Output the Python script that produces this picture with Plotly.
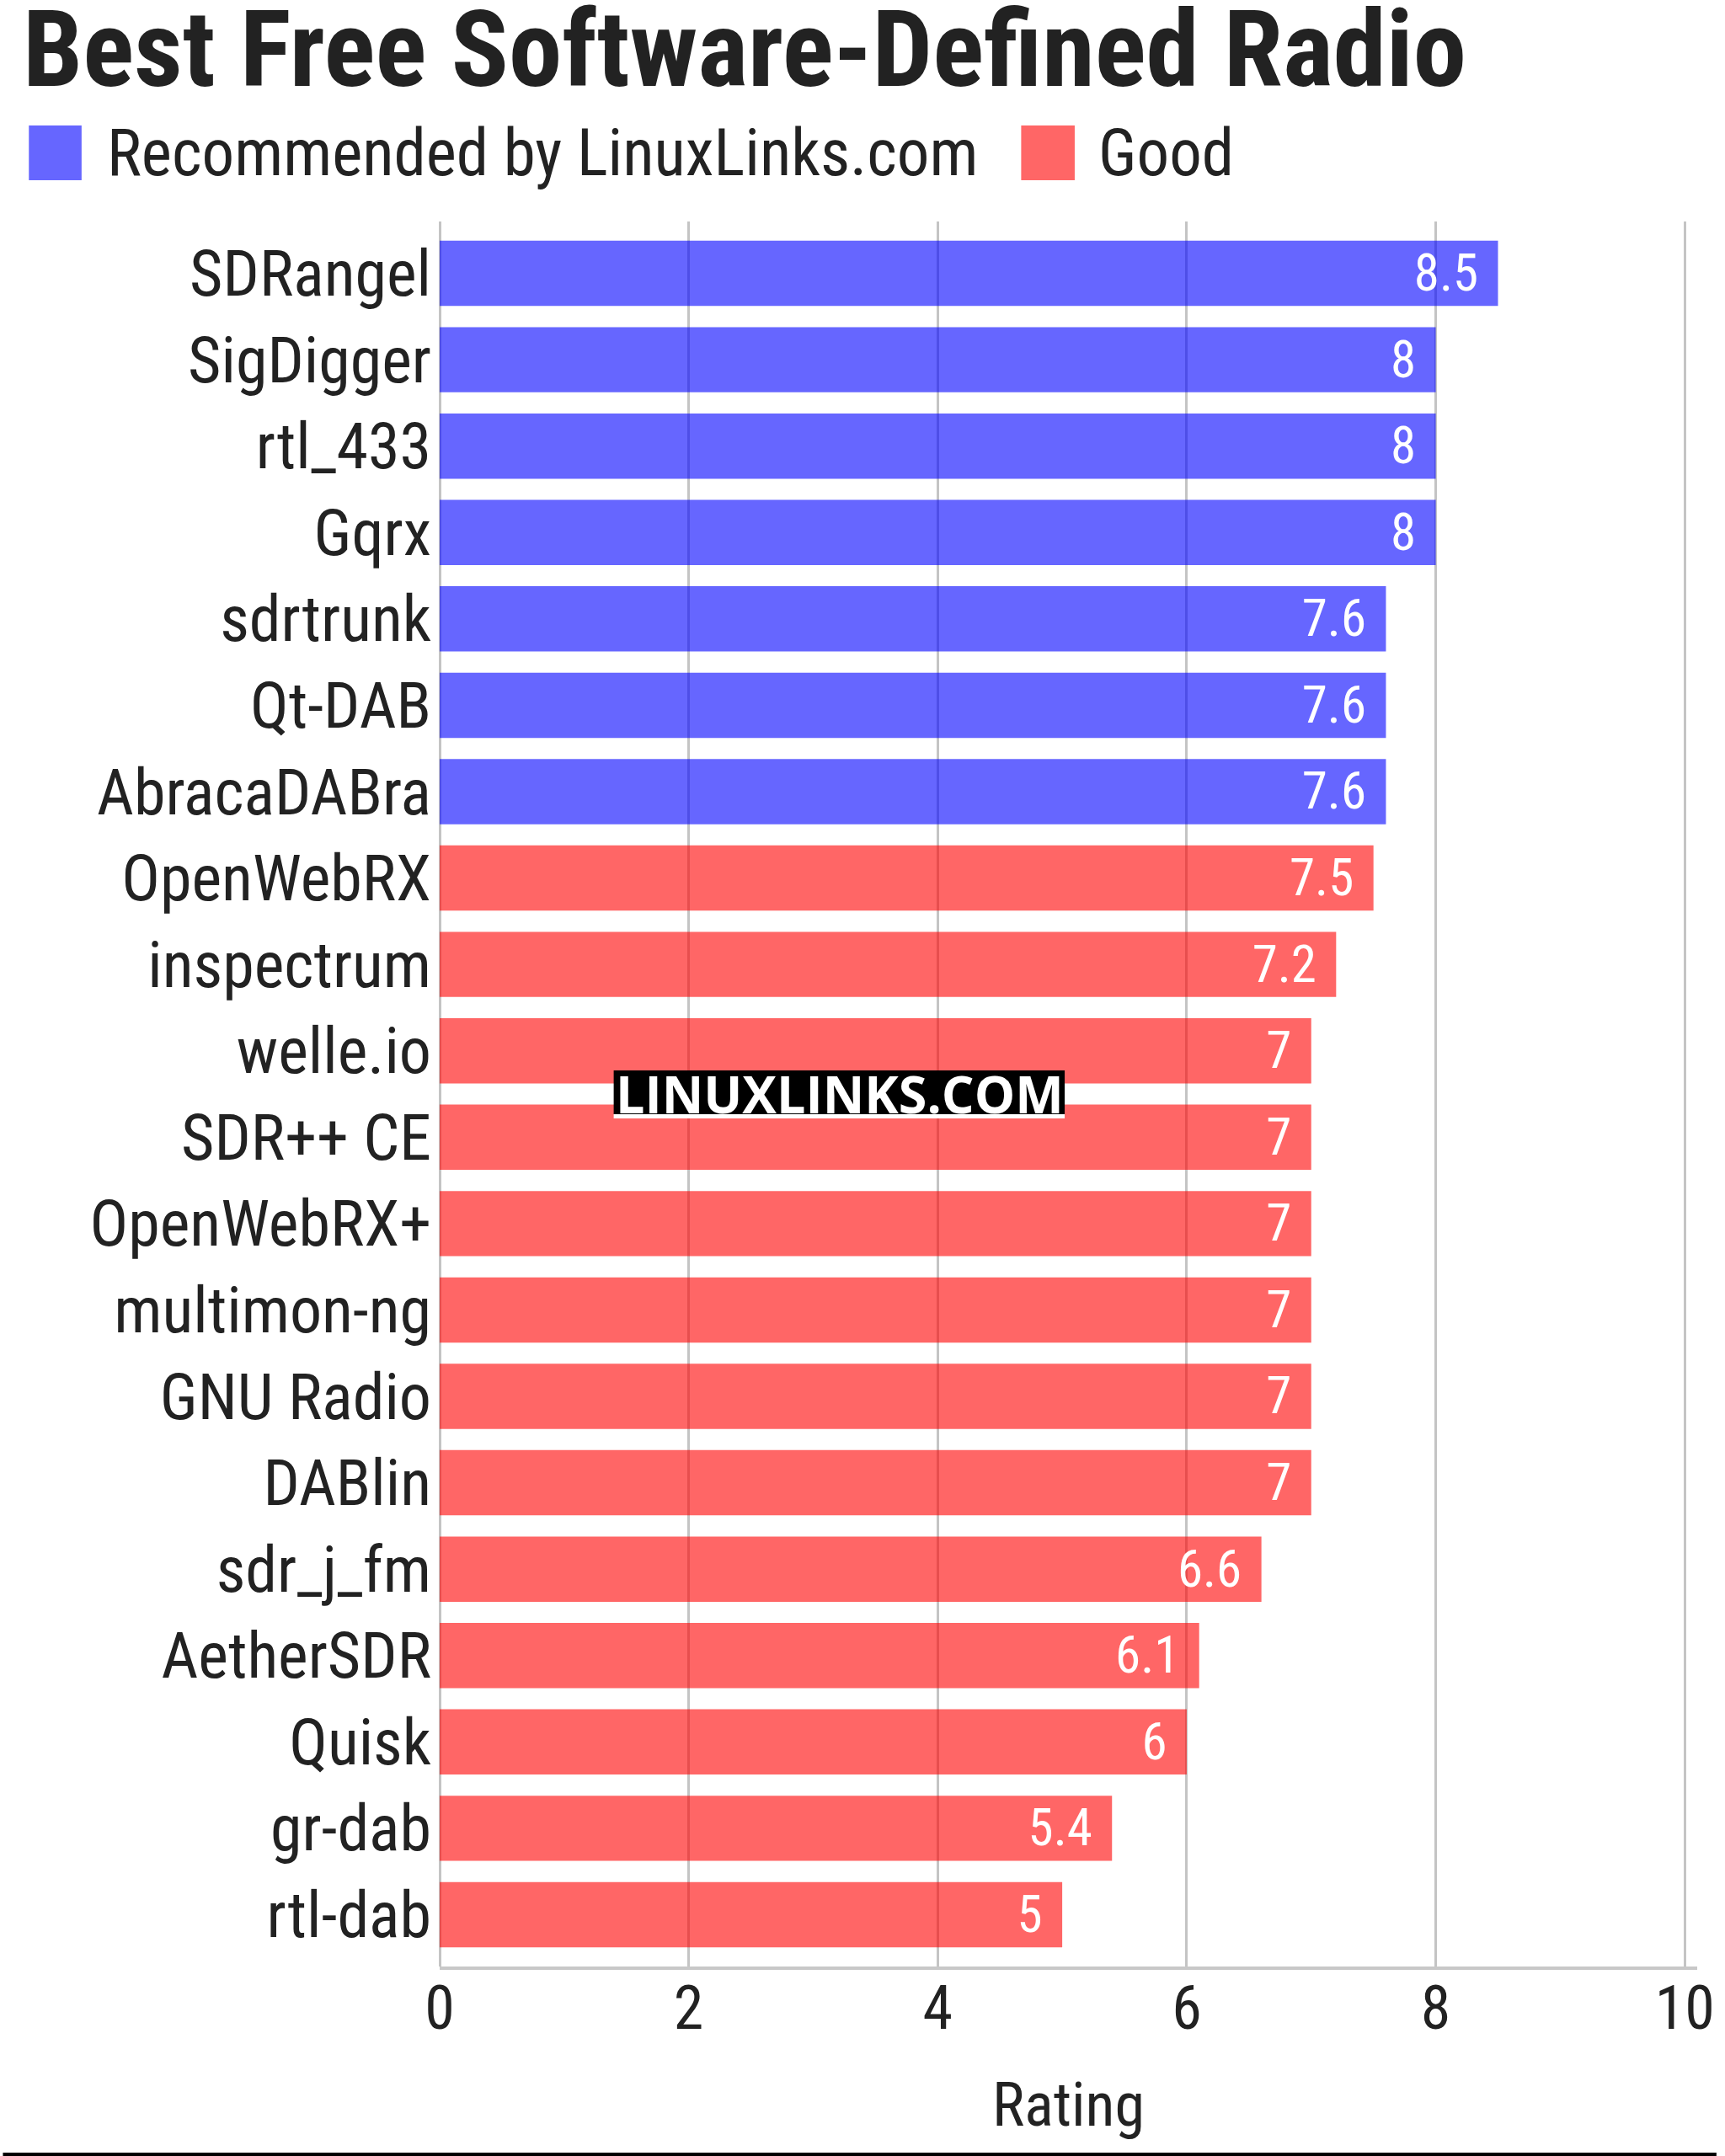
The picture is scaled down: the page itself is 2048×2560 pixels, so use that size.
import plotly.graph_objects as go

# ---------------- data ----------------
title_text = "Best Free Software-Defined Radio"
series_names = ["Recommended by LinuxLinks.com", "Good"]
rec_names = ["SDRangel", "SigDigger", "rtl_433", "Gqrx", "sdrtrunk", "Qt-DAB", "AbracaDABra"]
rec_values = [8.5, 8, 8, 8, 7.6, 7.6, 7.6]
good_names = ["OpenWebRX", "inspectrum", "welle.io", "SDR++ CE", "OpenWebRX+", "multimon-ng",
              "GNU Radio", "DABlin", "sdr_j_fm", "AetherSDR", "Quisk", "gr-dab", "rtl-dab"]
good_values = [7.5, 7.2, 7, 7, 7, 7, 7, 7, 6.6, 6.1, 6, 5.4, 5]
x_ticks = [0, 2, 4, 6, 8, 10]
x_title = "Rating"
watermark = "LINUXLINKS.COM"

# ---------------- styling ----------------
W, H = 2048, 2560
ML, MR, MT, MB = 522, 23, 263, 225
PW, PH = W - ML - MR, H - MT - MB
FONT = "Roboto Condensed, Liberation Sans Narrow, Arial Narrow, DejaVu Sans Condensed, sans-serif"
DARK = "#222222"
BLUE = "rgba(0,0,255,0.6)"
RED = "rgba(255,0,0,0.6)"
colors = [BLUE, RED]


def X(px):
    return (px - ML) / PW


def Y(py):
    return (MT + PH - py) / PH


all_names = rec_names + good_names

fig = go.Figure()
for name, cats, vals, col in [(series_names[0], rec_names, rec_values, BLUE),
                              (series_names[1], good_names, good_values, RED)]:
    fig.add_trace(go.Bar(
        name=name, y=cats, x=vals, orientation="h",
        marker=dict(color=col, line=dict(width=0)),
        texttemplate="%{x}\u00a0\u200a", textposition="inside", insidetextanchor="end",
        textangle=0,
        textfont=dict(family=FONT, size=64, color="white"),
        showlegend=False, hoverinfo="x+y",
    ))

shapes = []
annotations = []

# manual legend
leg = [(31, 94, 122), (1217, 1281, 1307)]
for (sx0, sx1, tx), name, col in zip(leg, series_names, colors):
    shapes.append(dict(type="rect", xref="paper", yref="paper",
                       x0=X(sx0), x1=X(sx1), y0=Y(214), y1=Y(149),
                       fillcolor=col, line=dict(width=0)))
    annotations.append(dict(text=name, xref="paper", yref="paper", x=X(tx), y=Y(182),
                            xanchor="left", yanchor="middle", showarrow=False,
                            font=dict(family=FONT, size=77, color=DARK)))

# watermark
shapes.append(dict(type="rect", xref="paper", yref="paper", x0=X(730), x1=X(1269),
                   y0=Y(1328), y1=Y(1323), fillcolor="white", line=dict(width=0), layer="above"))
shapes.append(dict(type="rect", xref="paper", yref="paper", x0=X(730), x1=X(1269),
                   y0=Y(1323), y1=Y(1271), fillcolor="black", line=dict(width=0), layer="above"))
annotations.append(dict(text="<b>" + watermark + "</b>", xref="paper", yref="paper",
                        x=X(1000), y=Y(1298), xanchor="center", yanchor="middle", showarrow=False,
                        font=dict(family="Open Sans, DejaVu Sans, sans-serif", size=61, color="white")))

# bottom page line
shapes.append(dict(type="line", xref="paper", yref="paper", x0=X(0), x1=X(W),
                   y0=Y(2558), y1=Y(2558), line=dict(color="black", width=4)))

fig.update_layout(
    width=W, height=H,
    margin=dict(l=ML, r=MR, t=MT, b=MB, pad=0),
    paper_bgcolor="white", plot_bgcolor="white",
    font=dict(family=FONT, color=DARK),
    title=dict(text="<b>" + title_text + "</b>", xref="container", yref="container",
               x=27 / W, xanchor="left", y=1 - 58 / H, yanchor="middle",
               font=dict(family=FONT, size=127, color=DARK)),
    barmode="overlay", bargap=0.245,
    shapes=shapes, annotations=annotations,
    xaxis=dict(range=[0, 10.1], tickvals=x_ticks, showgrid=True, gridcolor="#c4c4c4", gridwidth=3,
               zeroline=True, zerolinecolor="#c4c4c4", zerolinewidth=3,
               showline=True, linecolor="#c8c8c8", linewidth=4,
               ticks="", ticklabelstandoff=-16, ticklabeloverflow="allow",
               tickfont=dict(family=FONT, size=72, color=DARK),
               title=dict(text=x_title, font=dict(family=FONT, size=72, color=DARK), standoff=48),
               fixedrange=True),
    yaxis=dict(categoryorder="array", categoryarray=all_names, range=[19.6, -0.6],
               showgrid=False, ticks="", ticklabelstandoff=9,
               tickfont=dict(family=FONT, size=76, color=DARK), fixedrange=True),
)

fig.write_html("out.html")
